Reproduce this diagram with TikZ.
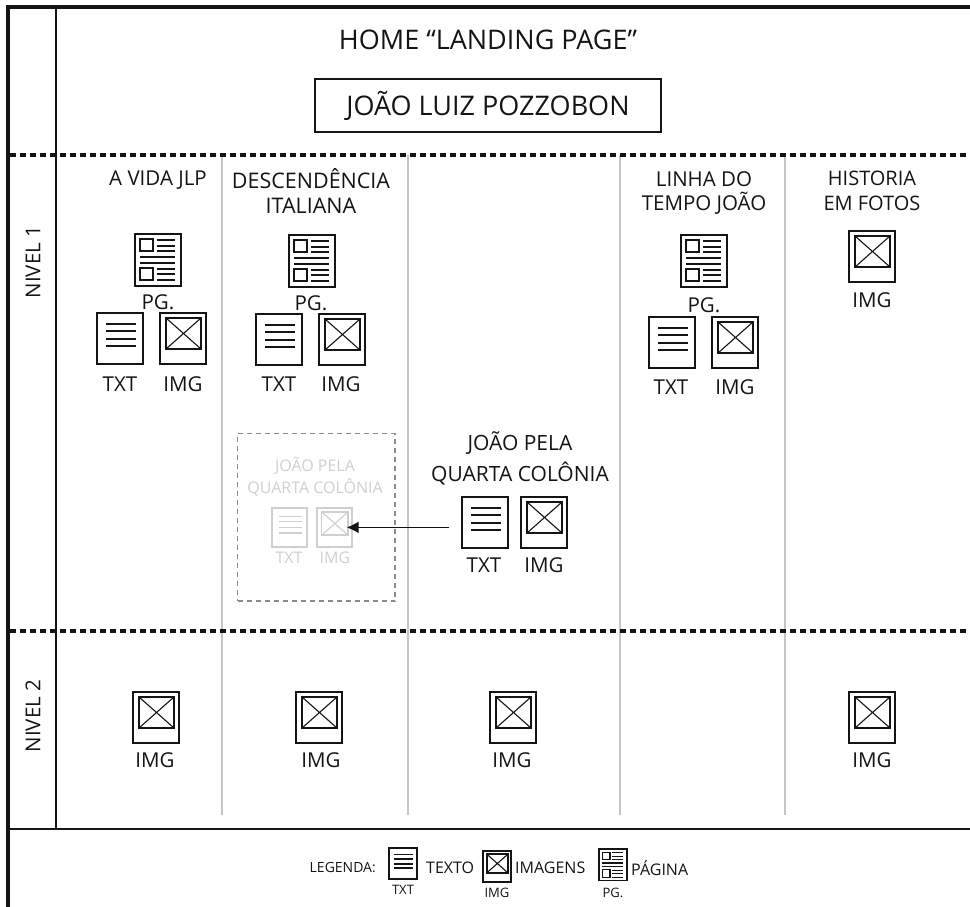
\documentclass[tikz,border=0pt]{standalone}
\usepackage{fontspec}
\setmainfont{Open Sans}
\usetikzlibrary{arrows.meta}
\definecolor{ink}{HTML}{141414}
\definecolor{ghost}{HTML}{CFCFCF}
\definecolor{ghostdash}{HTML}{8C8C8C}
\definecolor{sep}{HTML}{C6C6C6}
\tikzset{
  lab/.style={inner sep=0pt,text=ink,font=\fontsize{20.5}{24}\selectfont,align=center},
  glab/.style={inner sep=0pt,text=ghost,font=\fontsize{16}{22}\selectfont,align=center},
  leg/.style={inner sep=0pt,text=ink,font=\fontsize{16}{18}\selectfont},
  legs/.style={inner sep=0pt,text=ink,font=\fontsize{13}{14}\selectfont},
  frame/.style={draw=ink,line width=1.7pt},
  divider/.style={draw=ink,line width=3.4pt,dash pattern=on 6pt off 4pt},
  sepline/.style={draw=sep,line width=1.6pt},
  iconbox/.style={draw=#1,inner sep=0pt,line width=1.5pt,fill=white},
}
% name, left, top, scale, colour
\newcommand\txticon[5]{\begin{scope}[shift={(#2,#3)},x=#4pt,y=-#4pt]
 \node[iconbox=#5,minimum width=#4*46pt,minimum height=#4*51pt] (#1) at (23,25.5) {};
 \foreach \yy in {11,18,26,33}{\draw[#5,line width=1.3pt] (9,\yy)--(39,\yy);}
 \end{scope}}
\newcommand\imgicon[5]{\begin{scope}[shift={(#2,#3)},x=#4pt,y=-#4pt]
 \node[iconbox=#5,minimum width=#4*46pt,minimum height=#4*51pt] (#1) at (23,25.5) {};
 \draw[#5,line width=1.8pt] (6,5) rectangle (41,36);
 \draw[#5,line width=1.1pt] (6,5)--(41,36) (41,5)--(6,36);
 \end{scope}}
\newcommand\pgicon[5]{\begin{scope}[shift={(#2,#3)},x=#4pt,y=-#4pt]
 \node[iconbox=#5,minimum width=#4*46pt,minimum height=#4*52pt] (#1) at (23,26) {};
 \draw[#5,line width=1.1pt] (5,5) rectangle (18,17) (5,34) rectangle (18,46);
 \foreach \yy in {6,12,17,35,40,46}{\draw[#5,line width=1.1pt] (22,\yy)--(40,\yy);}
 \foreach \yy in {23,29}{\draw[#5,line width=1.1pt] (5,\yy)--(40,\yy);}
 \end{scope}}
\begin{document}
\begin{tikzpicture}[x=1pt,y=-1pt]
\useasboundingbox (0,0) rectangle (970,907);
% frame
\coordinate (tl) at (8,7); \coordinate (tr) at (970,7); \coordinate (bl) at (8,907);
\coordinate (n1t) at (56,7); \coordinate (n1b) at (56,829);
\coordinate (hl) at (8,829); \coordinate (hr) at (970,829);
\draw[draw=ink,line width=3.2pt] (tr)--(tl)--(bl);
\draw[frame] (n1t)--(n1b);
\draw[frame] (hl)--(hr);
% separators
\foreach \xx in {222,408,620,785}{\draw[sepline] (\xx,155)--(\xx,815);}
% dividers
\coordinate (d1l) at (10,155); \coordinate (d1r) at (970,155);
\coordinate (d2l) at (10,631); \coordinate (d2r) at (970,631);
\draw[divider] (d1l)--(d1r);
\draw[divider] (d2l)--(d2r);
% head
\node[inner sep=0pt,text=ink,font=\fontsize{27}{30}\selectfont] (home) at (488,40) {HOME “LANDING PAGE”};
\node[draw=ink,line width=1.2pt,minimum width=346pt,minimum height=53pt,inner sep=0pt,text=ink,font=\fontsize{27}{30}\selectfont] (joao) at (488,105.5) {JOÃO LUIZ POZZOBON};
\node[lab,rotate=90] (n1) at (33,262) {NIVEL 1};
\node[lab,rotate=90] (n2) at (33,716) {NIVEL 2};
% column 1
\node[lab] (c1) at (158,180) {A VIDA JLP};
\pgicon{c1p}{135}{234}{1}{ink}
\txticon{c1t}{97}{313}{1}{ink}
\imgicon{c1i}{160}{313}{1}{ink}
\node[lab] (c1pl) at (158,302) {PG.};
\node[lab] (c1tl) at (120,384) {TXT};
\node[lab] (c1il) at (183,384) {IMG};
% column 2
\node[lab,font=\fontsize{21.5}{24.5}\selectfont] (c2) at (311,191) {DESCENDÊNCIA\\ITALIANA};
\pgicon{c2p}{289}{235}{1}{ink}
\txticon{c2t}{256}{314}{1}{ink}
\imgicon{c2i}{319}{314}{1}{ink}
\node[lab] (c2pl) at (311,303) {PG.};
\node[lab] (c2tl) at (279,384) {TXT};
\node[lab] (c2il) at (341,384) {IMG};
% column 4
\node[lab,font=\fontsize{20.5}{24.5}\selectfont] (c4) at (704,193) {LINHA DO\\TEMPO JOÃO};
\pgicon{c4p}{681}{235}{1}{ink}
\txticon{c4t}{649}{317}{1}{ink}
\imgicon{c4i}{712}{317}{1}{ink}
\node[lab] (c4pl) at (704,305) {PG.};
\node[lab] (c4tl) at (671,387) {TXT};
\node[lab] (c4il) at (735,387) {IMG};
% column 5
\node[lab,font=\fontsize{20}{24.5}\selectfont] (c5) at (872,191) {HISTORIA\\EM FOTOS};
\imgicon{c5i}{849}{231}{1}{ink}
\node[lab] (c5il) at (872,300) {IMG};
% ghost
\node[draw=ghostdash,line width=1.3pt,dash pattern=on 5pt off 4pt,minimum width=157.5pt,minimum height=167.5pt,inner sep=0pt] (gbox) at (316.25,517.25) {};
\node[glab] (gt) at (315,477) {JOÃO PELA\\QUARTA COLÔNIA};
\txticon{gtx}{272}{508}{0.76}{ghost}
\imgicon{gim}{317}{508}{0.76}{ghost}
\node[glab] (gtl) at (289,558) {TXT};
\node[glab] (gil) at (335,558) {IMG};
% middle
\node[lab,font=\fontsize{21}{31}\selectfont] (mt) at (520,458) {JOÃO PELA\\QUARTA COLÔNIA};
\txticon{mtx}{462}{497}{1}{ink}
\imgicon{mim}{521}{497}{1}{ink}
\node[lab] (mtl) at (484,565) {TXT};
\node[lab] (mil) at (544,565) {IMG};
\draw[ink,line width=1.4pt,-{Latex[length=12pt,width=12pt]},shorten <=12pt,shorten >=-6pt] (mtx.west |- gim.east) -- (gim.east);
% level 2
\imgicon{l1}{133}{692}{1}{ink}
\node[lab] (l1l) at (155,760) {IMG};
\imgicon{l2}{296}{692}{1}{ink}
\node[lab] (l2l) at (321,760) {IMG};
\imgicon{l3}{490}{692}{1}{ink}
\node[lab] (l3l) at (512,760) {IMG};
\imgicon{l5}{849}{692}{1}{ink}
\node[lab] (l5l) at (872,760) {IMG};
% legend
\node[leg,anchor=east,font=\fontsize{14}{18}\selectfont] (lg) at (376,868) {LEGENDA:};
\txticon{ltx}{389}{848}{0.61}{ink}
\node[leg,anchor=west] (lgt) at (426,868) {TEXTO};
\imgicon{lim}{483}{851}{0.61}{ink}
\node[leg,anchor=west] (lgi) at (515,868) {IMAGENS};
\pgicon{lpg}{599}{849}{0.61}{ink}
\node[leg,anchor=west] (lgp) at (631,868) {PÁGINA};
\node[legs] (ltl) at (403,890) {TXT};
\node[legs] (lil) at (497,893) {IMG};
\node[legs] (lpl) at (613,893) {PG.};
\end{tikzpicture}
\end{document}
